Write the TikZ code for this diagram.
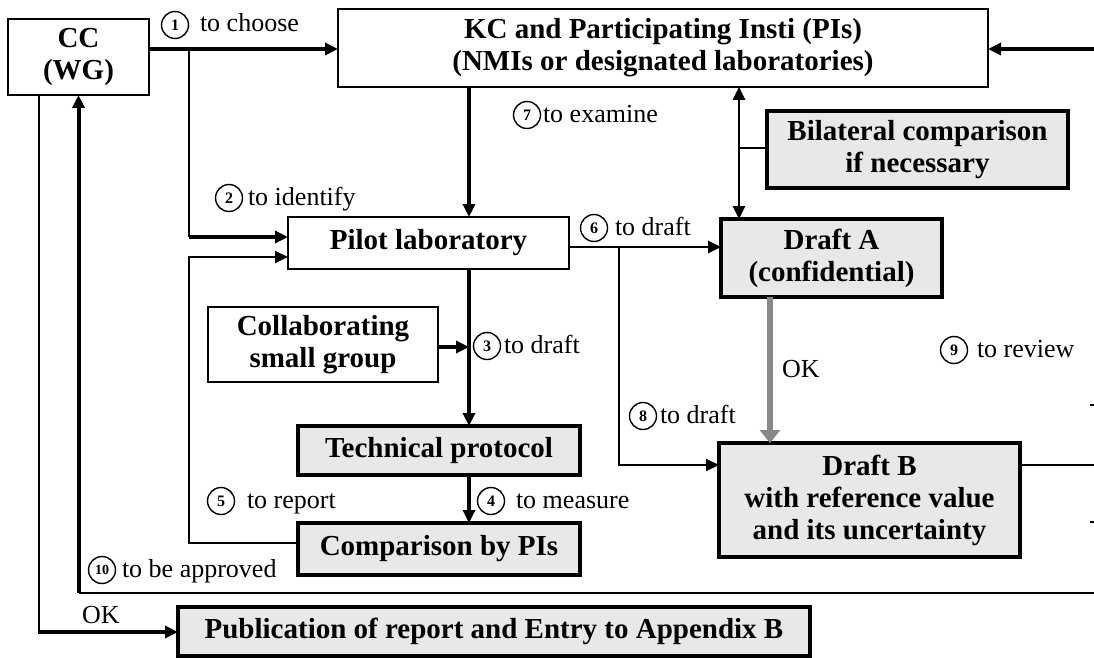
\documentclass[tikz,border=0pt]{standalone}
\usepackage{fontspec}
\setmainfont{Liberation Serif}
\usetikzlibrary{arrows.meta}
\definecolor{boxgray}{RGB}{232,232,232}
\definecolor{okgray}{RGB}{136,136,136}
\begin{document}
\begin{tikzpicture}[x=1pt,y=-1pt,
  every node/.style={inner sep=0pt, outer sep=0pt},
  plainbox/.style={draw, line width=1.8pt, fill=white, align=center,
    font=\fontsize{29}{32}\selectfont\bfseries},
  shadebox/.style={draw, line width=3.6pt, fill=boxgray, align=center,
    font=\fontsize{29}{32}\selectfont\bfseries},
  lbl/.style={anchor=base west, font=\fontsize{26}{30}\selectfont},
  num/.style={draw, circle, line width=1.4pt, minimum size=27pt,
    font=\fontsize{16}{16}\selectfont\bfseries},
  arr/.style={-{Triangle[length=13pt,width=12pt]}},
  dbl/.style={{Triangle[length=13pt,width=12pt]}-{Triangle[length=13pt,width=12pt]}},
  lw1/.style={line width=1.8pt},
  lw2/.style={line width=2.6pt},
  lw3/.style={line width=4pt},
]
\useasboundingbox (0,0) rectangle (1094,658);

% boxes
\node[plainbox, minimum width=141pt, minimum height=76pt] (cc) at (78.5,57) {CC\\(WG)};
\node[plainbox, minimum width=650pt, minimum height=78pt] (kc) at (663,48)
  {KC and Participating Insti (PIs)\\(NMIs or designated laboratories)};
\node[plainbox, minimum width=281pt, minimum height=52pt] (pilot) at (428.5,243) {Pilot laboratory};
\node[plainbox, minimum width=230pt, minimum height=75pt] (collab) at (323,344.5) {Collaborating\\small group};
\node[shadebox, minimum width=282pt, minimum height=49pt] (tech) at (439,450.5) {Technical protocol};
\node[shadebox, minimum width=282pt, minimum height=52pt] (comp) at (439,549) {Comparison by PIs};
\node[shadebox, minimum width=221pt, minimum height=78pt] (drafta) at (831.5,258) {Draft A\\(confidential)};
\node[shadebox, minimum width=301pt, minimum height=77pt] (bilat) at (917.5,149.5) {Bilateral comparison\\if necessary};
\node[shadebox, minimum width=301pt, minimum height=114pt] (draftb) at (869.5,500)
  {Draft B\\with reference value\\and its uncertainty};
\node[shadebox, minimum width=632pt, minimum height=49pt] (pub) at (494,631.5)
  {Publication of report and Entry to Appendix B};

% routing points
\coordinate (split1) at (189,49);
\coordinate (split2) at (189,237);
\coordinate (rep1) at (189,543);
\coordinate (rep2) at (189,257);
\coordinate (axis) at (469,150);
\coordinate (ycol) at (469,347);
\coordinate (ya) at (650,247);
\coordinate (br1) at (619,247);
\coordinate (br2) at (619,465);
\coordinate (bi) at (739,148);
\coordinate (okx) at (770,370);
\coordinate (dbr) at (1094,465);
\coordinate (kcr) at (1094,49);
\coordinate (loopr) at (1094,593);
\coordinate (loopl) at (78.5,593);
\coordinate (okl) at (39,632);

% connectors
\draw[lw3, arr] (cc.east |- split1) -- (kc.west |- split1);
\draw[lw1] (split1) -- (split2);
\draw[lw3, arr] (split2) -- (pilot.west |- split2);
\draw[lw1, arr] (comp.west |- rep1) -- (rep1) -- (rep2) -- (pilot.west |- rep2);
\draw[lw3, arr] (kc.south -| axis) -- (pilot.north -| axis);
\draw[lw3, arr] (pilot.south -| axis) -- (tech.north -| axis);
\draw[lw3, arr] (collab.east |- ycol) -- (ycol);
\draw[lw3, arr] (tech.south -| axis) -- (comp.north -| axis);
\draw[lw2, arr] (pilot.east |- ya) -- (drafta.west |- ya);
\draw[lw1, arr] (br1) -- (br2) -- (draftb.west |- br2);
\draw[lw2, dbl] (kc.south -| bi) -- (drafta.north -| bi);
\draw[lw1] (bilat.west |- bi) -- (bi);
\draw[line width=6pt, okgray, -{Triangle[length=13pt,width=20pt]}] (drafta.south -| okx) -- (draftb.north -| okx);
\draw[lw1] (draftb.east |- dbr) -- (dbr);
\draw[lw3, arr] (kcr) -- (kc.east |- kcr);
\draw[lw2] (loopr) -- (loopl);
\draw[lw3, arr] (loopl) -- (cc.south);
\draw[lw1] (cc.south -| okl) -- (okl);
\draw[lw3, arr] ([xshift=-1pt]okl) -- (pub.west |- okl);
\draw[lw1] (1090,405) -- (1094,405);
\draw[lw1] (1090,522) -- (1094,522);

% step labels
\node[num] (n1) at (175,25) {1};   \node[lbl] (t1) at (200,32) {to choose};
\node[num] (n2) at (229,198) {2};  \node[lbl] (t2) at (248,205) {to identify};
\node[num] (n3) at (487,346) {3};  \node[lbl] (t3) at (504,353) {to draft};
\node[num] (n4) at (491,501) {4};  \node[lbl] (t4) at (516,508) {to measure};
\node[num] (n5) at (221,501) {5};  \node[lbl] (t5) at (247,508) {to report};
\node[num] (n6) at (594,228) {6};  \node[lbl] (t6) at (615,235) {to draft};
\node[num] (n7) at (527,115) {7};  \node[lbl] (t7) at (543,122) {to examine};
\node[num] (n8) at (643,416) {8};  \node[lbl] (t8) at (660,423) {to draft};
\node[num] (n9) at (954,350) {9};  \node[lbl] (t9) at (977,357) {to review};
\node[num, font=\fontsize{14}{14}\selectfont\bfseries] (n10) at (102,570) {10};
\node[lbl] (t10) at (122,577) {to be approved};
\node[lbl] (ok1) at (82,623) {OK};
\node[lbl] (ok2) at (782,377) {OK};
\end{tikzpicture}
\end{document}
